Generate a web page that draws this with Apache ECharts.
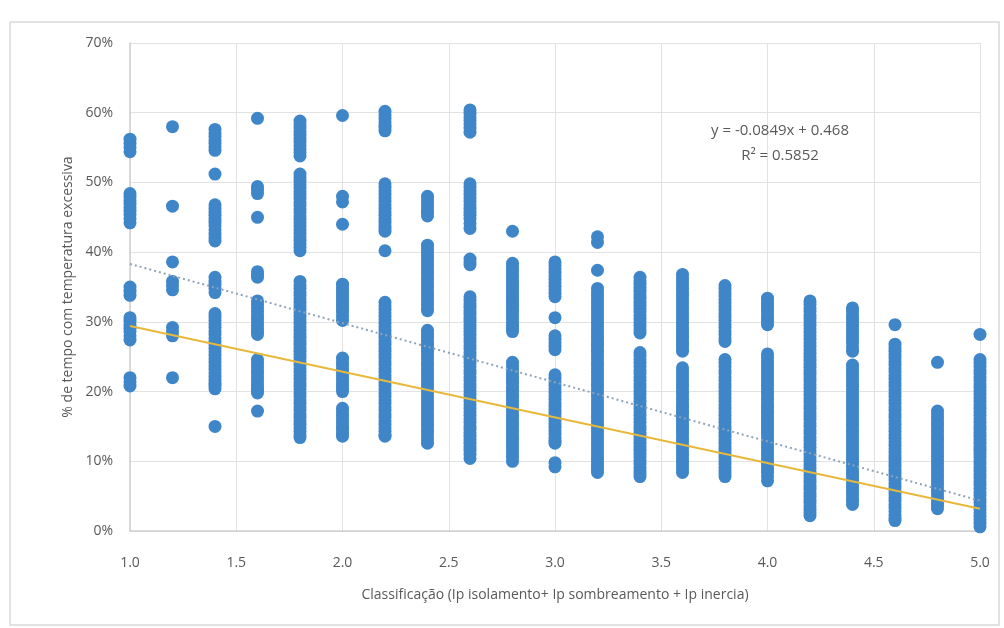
<!DOCTYPE html>
<html>
<head>
<meta charset="utf-8">
<script src="https://cdn.jsdelivr.net/npm/echarts@6/dist/echarts.min.js"></script>
<style>
  html, body { margin: 0; padding: 0; background: #ffffff; }
  #chart { width: 1004px; height: 628px; }
</style>
</head>
<body>
<div id="chart"></div>
<script>
// Classification values (x) and the % of time with excessive temperature observed for each one
const classes = [1.0, 1.2, 1.4, 1.6, 1.8, 2.0, 2.2, 2.4, 2.6, 2.8, 3.0, 3.2, 3.4, 3.6, 3.8, 4.0, 4.2, 4.4, 4.6, 4.8, 5.0];

const pct_1_0 = [56.2, 55.6, 55.0, 54.4, 48.4, 47.9, 47.4, 46.9, 46.4, 45.9, 45.4, 44.8, 44.2, 35.0, 34.4, 33.8,
  30.6, 30.1, 29.6, 29.1, 28.6, 28.0, 27.4, 22.0, 21.4, 20.8];
const pct_1_2 = [58.0, 46.6, 38.6, 35.8, 35.2, 34.6, 29.2, 28.6, 28.0, 22.0];
const pct_1_4 = [57.6, 57.1, 56.6, 56.1, 55.6, 55.1, 54.6, 51.2, 46.8, 46.3, 45.8, 45.3, 44.8, 44.3, 43.8, 43.2, 42.6, 42.1, 41.6,
  36.4, 35.9, 35.4, 34.8, 34.2, 31.2, 30.7, 30.2, 29.7, 29.2, 28.7, 28.2, 27.7, 27.2, 26.7, 26.2, 25.7, 25.2, 24.7, 24.2,
  23.7, 23.2, 22.7, 22.2, 21.7, 21.2, 20.8, 20.4, 15.0];
const pct_1_6 = [59.2, 49.4, 48.9, 48.4, 45.0, 37.2, 36.8, 36.4, 33.0, 32.5, 32.0, 31.5, 31.0, 30.5, 30.0, 29.5, 29.0, 28.6, 28.2,
  24.6, 24.1, 23.6, 23.1, 22.6, 22.1, 21.6, 21.1, 20.6, 20.2, 19.8, 17.2];
const pct_1_8 = [58.8, 58.3, 57.8, 57.3, 56.8, 56.3, 55.8, 55.3, 54.8, 54.3, 53.8,
  51.2, 50.7, 50.2, 49.7, 49.2, 48.7, 48.2, 47.7, 47.2, 46.7, 46.2, 45.7, 45.2, 44.7, 44.2, 43.7, 43.2, 42.7, 42.2, 41.7, 41.2, 40.7, 40.2,
  35.8, 35.3, 34.8, 34.3, 33.8, 33.3, 32.8, 32.3, 31.8, 31.3, 30.8, 30.3, 29.8, 29.3, 28.8, 28.3, 27.8, 27.3, 26.8, 26.3,
  25.8, 25.3, 24.8, 24.3, 23.8, 23.3, 22.8, 22.3, 21.8, 21.3, 20.8, 20.3, 19.8, 19.3, 18.8, 18.3, 17.8, 17.3, 16.8, 16.3,
  15.8, 15.3, 14.8, 14.3, 13.8, 13.4];
const pct_2_0 = [59.6, 48.0, 47.2, 44.0, 35.4, 34.9, 34.4, 33.9, 33.4, 32.9, 32.4, 31.9, 31.4, 30.8, 30.2,
  24.8, 24.3, 23.8, 23.3, 22.8, 22.3, 21.8, 21.3, 20.8, 20.4, 20.0, 17.6, 17.1, 16.6, 16.1, 15.6, 15.1, 14.6, 14.1, 13.6];
const pct_2_2 = [60.2, 59.7, 59.2, 58.7, 58.2, 57.8, 57.4, 49.8, 49.3, 48.8, 48.3, 47.8, 47.3, 46.8, 46.3, 45.8, 45.3, 44.8,
  44.3, 43.8, 43.4, 43.0, 40.2,
  32.8, 32.3, 31.8, 31.3, 30.8, 30.3, 29.8, 29.3, 28.8, 28.3, 27.8, 27.3, 26.8, 26.3, 25.8, 25.3, 24.8, 24.3, 23.8, 23.3,
  22.8, 22.3, 21.8, 21.3, 20.8, 20.3, 19.8, 19.3, 18.8, 18.3, 17.8, 17.3, 16.8, 16.3, 15.8, 15.3, 14.8, 14.3, 13.8, 13.6];
const pct_2_4 = [48.0, 47.5, 47.0, 46.5, 46.0, 45.6, 45.2,
  41.0, 40.5, 40.0, 39.5, 39.0, 38.5, 38.0, 37.5, 37.0, 36.5, 36.0, 35.5, 35.0, 34.5, 34.0, 33.5, 33.0, 32.5, 32.0, 31.6,
  28.8, 28.3, 27.8, 27.3, 26.8, 26.3, 25.8, 25.3, 24.8, 24.3, 23.8, 23.3, 22.8, 22.3, 21.8, 21.3, 20.8, 20.3, 19.8, 19.3,
  18.8, 18.3, 17.8, 17.3, 16.8, 16.3, 15.8, 15.3, 14.8, 14.3, 13.8, 13.2, 12.6];
const pct_2_6 = [60.4, 59.9, 59.4, 58.9, 58.4, 57.8, 57.2,
  49.8, 49.3, 48.8, 48.3, 47.8, 47.3, 46.8, 46.3, 45.8, 45.3, 44.8, 44.1, 43.4, 39.0, 38.6, 38.2,
  33.6, 33.1, 32.6, 32.1, 31.6, 31.1, 30.6, 30.1, 29.6, 29.1, 28.6, 28.1, 27.6, 27.1, 26.6, 26.1, 25.6, 25.1, 24.6, 24.1,
  23.6, 23.1, 22.6, 22.1, 21.6, 21.1, 20.6, 20.1, 19.6, 19.1, 18.6, 18.1, 17.6, 17.1, 16.6, 16.1, 15.6, 15.1, 14.6, 14.1,
  13.6, 13.1, 12.6, 12.1, 11.6, 11.0, 10.4];
const pct_2_8 = [43.0, 38.4, 37.9, 37.4, 36.9, 36.4, 35.9, 35.4, 34.9, 34.4, 33.9, 33.4, 32.9, 32.4, 31.9, 31.4, 30.9, 30.4,
  29.9, 29.4, 29.0, 28.6,
  24.2, 23.7, 23.2, 22.7, 22.2, 21.7, 21.2, 20.7, 20.2, 19.7, 19.2, 18.7, 18.2, 17.7, 17.2, 16.7, 16.2, 15.7, 15.2, 14.7,
  14.2, 13.7, 13.2, 12.7, 12.2, 11.7, 11.2, 10.6, 10.0];
const pct_3_0 = [38.6, 38.1, 37.6, 37.1, 36.6, 36.1, 35.6, 35.1, 34.6, 34.1, 33.6, 30.6, 28.0, 27.5, 27.0, 26.5, 26.0,
  22.4, 21.9, 21.4, 20.9, 20.4, 19.9, 19.4, 18.9, 18.4, 17.9, 17.4, 16.9, 16.4, 15.9, 15.4, 14.9, 14.4, 13.9, 13.4, 13.0, 12.6,
  9.8, 9.2];
const pct_3_2 = [42.2, 41.4, 37.4,
  34.8, 34.3, 33.8, 33.3, 32.8, 32.3, 31.8, 31.3, 30.8, 30.3, 29.8, 29.3, 28.8, 28.3, 27.8, 27.3, 26.8, 26.3, 25.8, 25.3,
  24.8, 24.3, 23.8, 23.3, 22.8, 22.3, 21.8, 21.3, 20.8, 20.3, 19.8, 19.3, 18.8, 18.3, 17.8, 17.3, 16.8, 16.3, 15.8, 15.3,
  14.8, 14.3, 13.8, 13.3, 12.8, 12.3, 11.8, 11.3, 10.8, 10.3, 9.8, 9.3, 8.8, 8.4];
const pct_3_4 = [36.4, 35.9, 35.4, 34.9, 34.4, 33.9, 33.4, 32.9, 32.4, 31.9, 31.4, 30.9, 30.4, 29.9, 29.4, 28.9, 28.4,
  25.6, 25.1, 24.6, 24.1, 23.6, 23.1, 22.6, 22.1, 21.6, 21.1, 20.6, 20.1, 19.6, 19.1, 18.6, 18.1, 17.6, 17.1, 16.6, 16.1,
  15.6, 15.1, 14.6, 14.1, 13.6, 13.1, 12.6, 12.1, 11.6, 11.1, 10.6, 10.1, 9.6, 9.1, 8.6, 8.2, 7.8];
const pct_3_6 = [36.8, 36.3, 35.8, 35.3, 34.8, 34.3, 33.8, 33.3, 32.8, 32.3, 31.8, 31.3, 30.8, 30.3, 29.8, 29.3, 28.8, 28.3,
  27.8, 27.3, 26.8, 26.3, 25.8,
  23.4, 22.9, 22.4, 21.9, 21.4, 20.9, 20.4, 19.9, 19.4, 18.9, 18.4, 17.9, 17.4, 16.9, 16.4, 15.9, 15.4, 14.9, 14.4, 13.9,
  13.4, 12.9, 12.4, 11.9, 11.4, 10.9, 10.4, 9.9, 9.4, 8.9, 8.4];
const pct_3_8 = [35.2, 34.7, 34.2, 33.7, 33.2, 32.7, 32.2, 31.7, 31.2, 30.7, 30.2, 29.7, 29.2, 28.7, 28.2, 27.7, 27.2,
  24.6, 24.1, 23.6, 23.1, 22.6, 22.1, 21.6, 21.1, 20.6, 20.1, 19.6, 19.1, 18.6, 18.1, 17.6, 17.1, 16.6, 16.1, 15.6, 15.1,
  14.6, 14.1, 13.6, 13.1, 12.6, 12.1, 11.6, 11.1, 10.6, 10.1, 9.6, 9.1, 8.6, 8.2, 7.8];
const pct_4_0 = [33.4, 32.9, 32.4, 31.9, 31.4, 30.9, 30.4, 30.0, 29.6,
  25.4, 24.9, 24.4, 23.9, 23.4, 22.9, 22.4, 21.9, 21.4, 20.9, 20.4, 19.9, 19.4, 18.9, 18.4, 17.9, 17.4, 16.9, 16.4, 15.9,
  15.4, 14.9, 14.4, 13.9, 13.4, 12.9, 12.4, 11.9, 11.4, 10.9, 10.4, 9.9, 9.4, 8.9, 8.4, 7.8, 7.2];
const pct_4_2 = [33.0, 32.5, 32.0, 31.5, 31.0, 30.5, 30.0, 29.5, 29.0, 28.5, 28.0, 27.5, 27.0, 26.5, 26.0, 25.5, 25.0, 24.5,
  24.0, 23.5, 23.0, 22.5, 22.0, 21.5, 21.0, 20.5, 20.0, 19.5, 19.0, 18.5, 18.0, 17.5, 17.0, 16.5, 16.0, 15.5, 15.0, 14.5,
  14.0, 13.5, 13.0, 12.5, 12.0, 11.5, 11.0, 10.5, 10.0, 9.5, 9.0, 8.5, 8.0, 7.5, 7.0, 6.5, 6.0, 5.5, 5.0, 4.5, 4.0, 3.5,
  3.0, 2.6, 2.2];
const pct_4_4 = [32.0, 31.5, 31.0, 30.5, 30.0, 29.5, 29.0, 28.5, 28.0, 27.5, 27.0, 26.4, 25.8,
  23.8, 23.3, 22.8, 22.3, 21.8, 21.3, 20.8, 20.3, 19.8, 19.3, 18.8, 18.3, 17.8, 17.3, 16.8, 16.3, 15.8, 15.3, 14.8, 14.3,
  13.8, 13.3, 12.8, 12.3, 11.8, 11.3, 10.8, 10.3, 9.8, 9.3, 8.8, 8.3, 7.8, 7.3, 6.8, 6.3, 5.8, 5.3, 4.8, 4.3, 3.8];
const pct_4_6 = [29.6, 26.8, 26.3, 25.8, 25.3, 24.8, 24.3, 23.8, 23.3, 22.8, 22.3, 21.8, 21.3, 20.8, 20.3, 19.8, 19.3,
  18.8, 18.3, 17.8, 17.3, 16.8, 16.3, 15.8, 15.3, 14.8, 14.3, 13.8, 13.3, 12.8, 12.3, 11.8, 11.3, 10.8, 10.3, 9.8, 9.3,
  8.8, 8.3, 7.8, 7.3, 6.8, 6.3, 5.8, 5.3, 4.8, 4.3, 3.8, 3.3, 2.8, 2.3, 1.8, 1.5];
const pct_4_8 = [24.2, 17.2, 16.7, 16.2, 15.7, 15.2, 14.7, 14.2, 13.7, 13.2, 12.7, 12.2, 11.7, 11.2, 10.7, 10.2, 9.7, 9.2,
  8.7, 8.2, 7.7, 7.2, 6.7, 6.2, 5.7, 5.2, 4.7, 4.2, 3.7, 3.2];
const pct_5_0 = [28.2, 24.6, 24.1, 23.6, 23.1, 22.6, 22.1, 21.6, 21.1, 20.6, 20.1, 19.6, 19.1, 18.6, 18.1, 17.6, 17.1,
  16.6, 16.1, 15.6, 15.1, 14.6, 14.1, 13.6, 13.1, 12.6, 12.1, 11.6, 11.1, 10.6, 10.1, 9.6, 9.1, 8.6, 8.1, 7.6, 7.1,
  6.6, 6.1, 5.6, 5.1, 4.6, 4.1, 3.6, 3.1, 2.6, 2.1, 1.6, 1.1, 0.6];

const columns = [pct_1_0, pct_1_2, pct_1_4, pct_1_6, pct_1_8, pct_2_0, pct_2_2, pct_2_4, pct_2_6, pct_2_8, pct_3_0,
  pct_3_2, pct_3_4, pct_3_6, pct_3_8, pct_4_0, pct_4_2, pct_4_4, pct_4_6, pct_4_8, pct_5_0];

// Linear trend (fraction form): y = slope * x + intercept
const trendSlope = -0.0849;
const trendIntercept = 0.468;
const trendR2 = 0.5852;

// Reference line end points (x, %)
const refLine = [[1.0, 29.4], [5.0, 3.2]];

// Extent of the trend line on the x axis
const trendRange = [1.0, 5.0];

const points = [];
classes.forEach((x, i) => columns[i].forEach(v => points.push([x, v])));

const trendPoints = trendRange.map(x => [x, (trendSlope * x + trendIntercept) * 100]);

const fmtNum = v => v.toFixed(4).replace(/0+$/, '').replace(/\.$/, '');
const eqText = 'y = ' + trendSlope.toFixed(4) + 'x + ' + fmtNum(trendIntercept) + '\nR² = ' + trendR2.toFixed(4);

const FONT = '"Open Sans", "Noto Sans", sans-serif';
const chart = echarts.init(document.getElementById('chart'), null, { renderer: 'canvas' });

chart.setOption({
  backgroundColor: '#ffffff',
  animation: false,
  grid: { left: 130, right: 24, top: 43, bottom: 97, containLabel: false },
  xAxis: {
    type: 'value',
    min: 1, max: 5, interval: 0.5,
    name: 'Classificação (Ip isolamento+ Ip sombreamento + Ip inercia)',
    nameLocation: 'middle',
    nameGap: 57,
    nameTextStyle: { color: '#595959', fontSize: 14, fontFamily: FONT },
    axisLine: { show: true, lineStyle: { color: '#cfcfcf', width: 1.5 } },
    axisTick: { show: false },
    axisLabel: { color: '#595959', fontSize: 14, fontFamily: FONT, margin: 25, formatter: v => v.toFixed(1) },
    splitLine: { show: true, lineStyle: { color: '#e2e2e2', width: 1 } }
  },
  yAxis: {
    type: 'value',
    min: 0, max: 70, interval: 10,
    name: '% de tempo com temperatura excessiva',
    nameLocation: 'middle',
    nameGap: 54,
    nameTextStyle: { color: '#595959', fontSize: 14, fontFamily: FONT },
    axisLine: { show: true, lineStyle: { color: '#cfcfcf', width: 1.5 } },
    axisTick: { show: false },
    axisLabel: { color: '#595959', fontSize: 14, fontFamily: FONT, margin: 17, formatter: v => v + '%' },
    splitLine: { show: true, lineStyle: { color: '#e2e2e2', width: 1 } }
  },
  series: [
    {
      type: 'scatter',
      data: points,
      symbol: 'circle',
      symbolSize: 13,
      large: false,
      itemStyle: { color: '#3f86c9', opacity: 1 },
      z: 3
    },
    {
      type: 'line',
      data: refLine,
      showSymbol: false,
      lineStyle: { color: '#e8b83a', width: 2 },
      z: 4
    },
    {
      type: 'line',
      data: trendPoints,
      showSymbol: false,
      lineStyle: { color: '#8fa3b8', width: 2, type: [2, 3] },
      z: 5
    }
  ],
  graphic: [
    {
      type: 'rect',
      shape: { x: 10, y: 22, width: 989, height: 603 },
      style: { fill: 'none', stroke: '#d9d9d9', lineWidth: 1.5 },
      silent: true
    },
    {
      type: 'text',
      x: 780, y: 143,
      style: {
        text: eqText,
        fill: '#595959',
        font: '15px ' + FONT,
        align: 'center',
        verticalAlign: 'middle',
        lineHeight: 25
      },
      z: 10
    }
  ]
});
</script>
</body>
</html>
